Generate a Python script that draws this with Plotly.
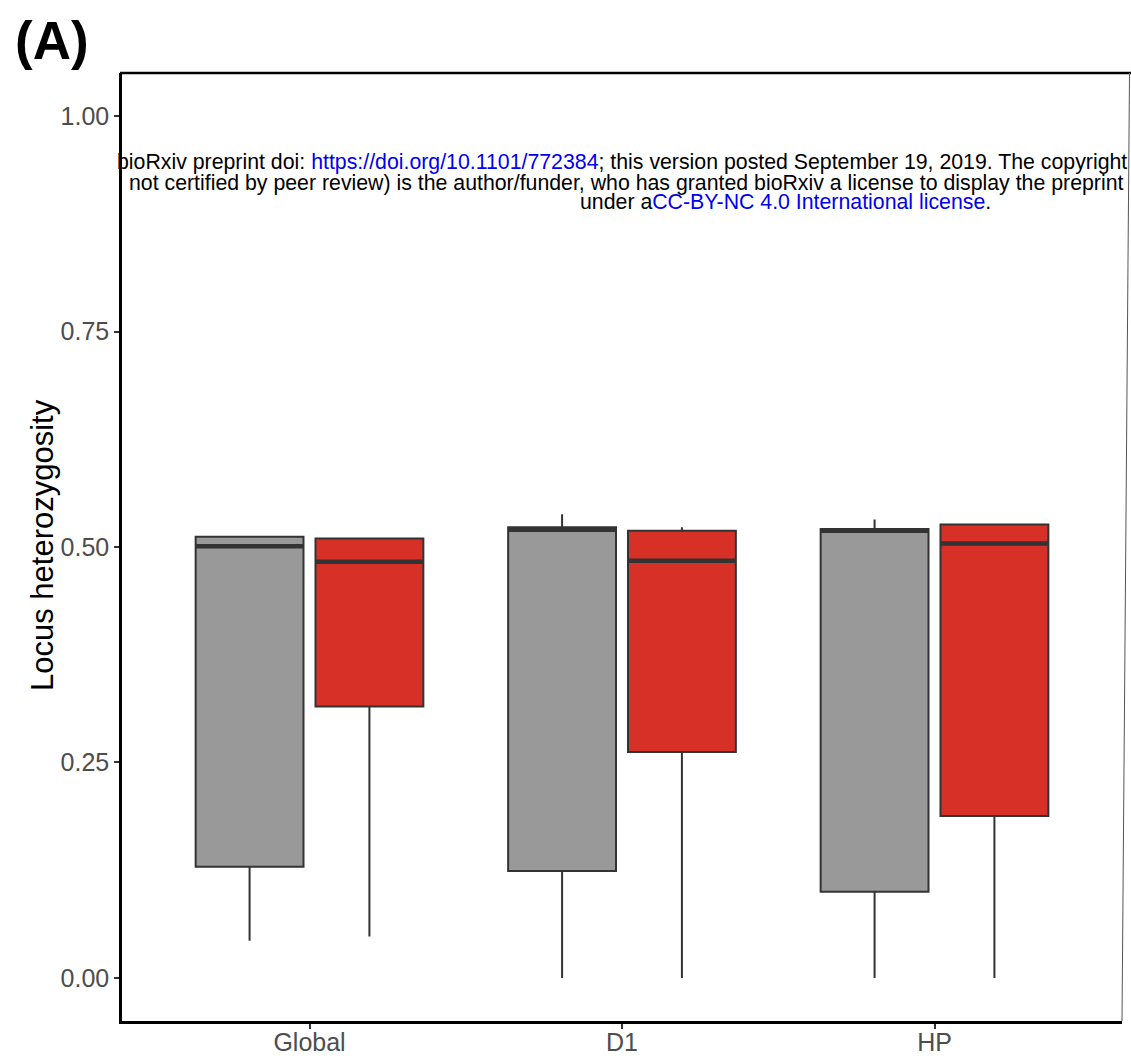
import plotly.graph_objects as go

categories = ["Global", "D1", "HP"]

grey_lower = [0.043, 0.0, 0.0]
grey_q1 = [0.129, 0.124, 0.100]
grey_median = [0.501, 0.520, 0.519]
grey_q3 = [0.512, 0.523, 0.521]
grey_upper = [0.513, 0.538, 0.532]

red_lower = [0.048, 0.0, 0.0]
red_q1 = [0.315, 0.262, 0.188]
red_median = [0.483, 0.484, 0.504]
red_q3 = [0.510, 0.519, 0.526]
red_upper = [0.511, 0.523, 0.526]

y_ticks = [0.0, 0.25, 0.5, 0.75, 1.0]
y_ticklabels = ["0.00", "0.25", "0.50", "0.75", "1.00"]

W, H = 1131, 1062
L, R, T, B = 122, 9, 73, 41
PW = W - L - R
PH = H - T - B


def px(x):
    return (x - L) / PW


def py(y):
    return (H - B - y) / PH


fig = go.Figure()
for name, fill, lo, q1, med, q3, up in [
    ("grey", "#999999", grey_lower, grey_q1, grey_median, grey_q3, grey_upper),
    ("red", "#D73027", red_lower, red_q1, red_median, red_q3, red_upper),
]:
    fig.add_trace(go.Box(
        x=categories, q1=q1, median=med, q3=q3,
        lowerfence=lo, upperfence=up,
        fillcolor=fill, line=dict(color="#333333", width=2),
        whiskerwidth=0, boxpoints=False, showlegend=False, name=name,
        offsetgroup=name, alignmentgroup="all",
    ))
for name, med in [("grey", grey_median), ("red", red_median)]:
    # thicker median bar, drawn as a flat box at the median
    fig.add_trace(go.Box(
        x=categories, q1=med, median=med, q3=med,
        lowerfence=med, upperfence=med,
        fillcolor="rgba(0,0,0,0)", line=dict(color="#333333", width=4.5),
        whiskerwidth=0, boxpoints=False, showlegend=False, name=name + "_median",
        offsetgroup=name, alignmentgroup="all", hoverinfo="skip",
    ))

tick_font = dict(family="Liberation Sans, Arial, sans-serif", size=25, color="#4d4d4d")

fig.update_layout(
    width=W, height=H,
    margin=dict(l=L, r=R, t=T, b=B, pad=0, autoexpand=False),
    paper_bgcolor="white", plot_bgcolor="white",
    boxmode="group", boxgap=0.233, boxgroupgap=0.1,
    xaxis=dict(
        type="category", range=[-0.6, 2.6], automargin=False,
        showline=True, linecolor="black", linewidth=2.5,
        ticks="outside", ticklen=5, tickcolor="#333333", tickwidth=1.5,
        tickfont=tick_font, showgrid=False, zeroline=False,
        ticklabelstandoff=-8,
    ),
    yaxis=dict(
        range=[-0.05, 1.05], automargin=False,
        tickvals=y_ticks, ticktext=y_ticklabels,
        showline=True, linecolor="black", linewidth=2.5,
        ticks="outside", ticklen=5, tickcolor="#333333", tickwidth=1.5,
        tickfont=tick_font, showgrid=False, zeroline=False,
    ),
    font=dict(family="Liberation Sans, Arial, sans-serif"),
)

# frame lines (top and right)
fig.add_shape(type="line", xref="paper", yref="paper",
              x0=px(120), x1=px(1131), y0=1, y1=1,
              line=dict(color="black", width=2.5))
fig.add_shape(type="line", xref="paper", yref="paper",
              x0=px(1129.5), x1=px(1122), y0=1, y1=0,
              line=dict(color="#555555", width=1))

fig.add_annotation(
    text="Locus heterozygosity", textangle=-90,
    xref="paper", yref="paper", x=px(42), y=py(545),
    showarrow=False, font=dict(size=31, color="black"),
    xanchor="center", yanchor="middle",
)
fig.add_annotation(
    text="<b>(A)</b>", xref="paper", yref="paper",
    x=px(13), y=py(41), showarrow=False,
    font=dict(size=53, color="black"), xanchor="left", yanchor="middle",
)

wm_font = dict(size=21.3, color="black")
blue = "#0000ee"
fig.add_annotation(
    text=("bioRxiv preprint doi: <span style='color:%s'>https://doi.org/10.1101/772384</span>; "
          "this version posted September 19, 2019. The copyright" % blue),
    xref="paper", yref="paper", x=px(115), y=py(162), showarrow=False,
    font=wm_font, xanchor="left", yanchor="middle",
)
fig.add_annotation(
    text="not certified by peer review) is the author/funder, who has granted bioRxiv a license to display the preprint",
    xref="paper", yref="paper", x=px(127), y=py(183), showarrow=False,
    font=wm_font, xanchor="left", yanchor="middle",
)
fig.add_annotation(
    text="under a<span style='color:%s'>CC-BY-NC 4.0 International license</span>." % blue,
    xref="paper", yref="paper", x=px(578), y=py(202), showarrow=False,
    font=wm_font, xanchor="left", yanchor="middle",
)

fig.write_html("out.html")
